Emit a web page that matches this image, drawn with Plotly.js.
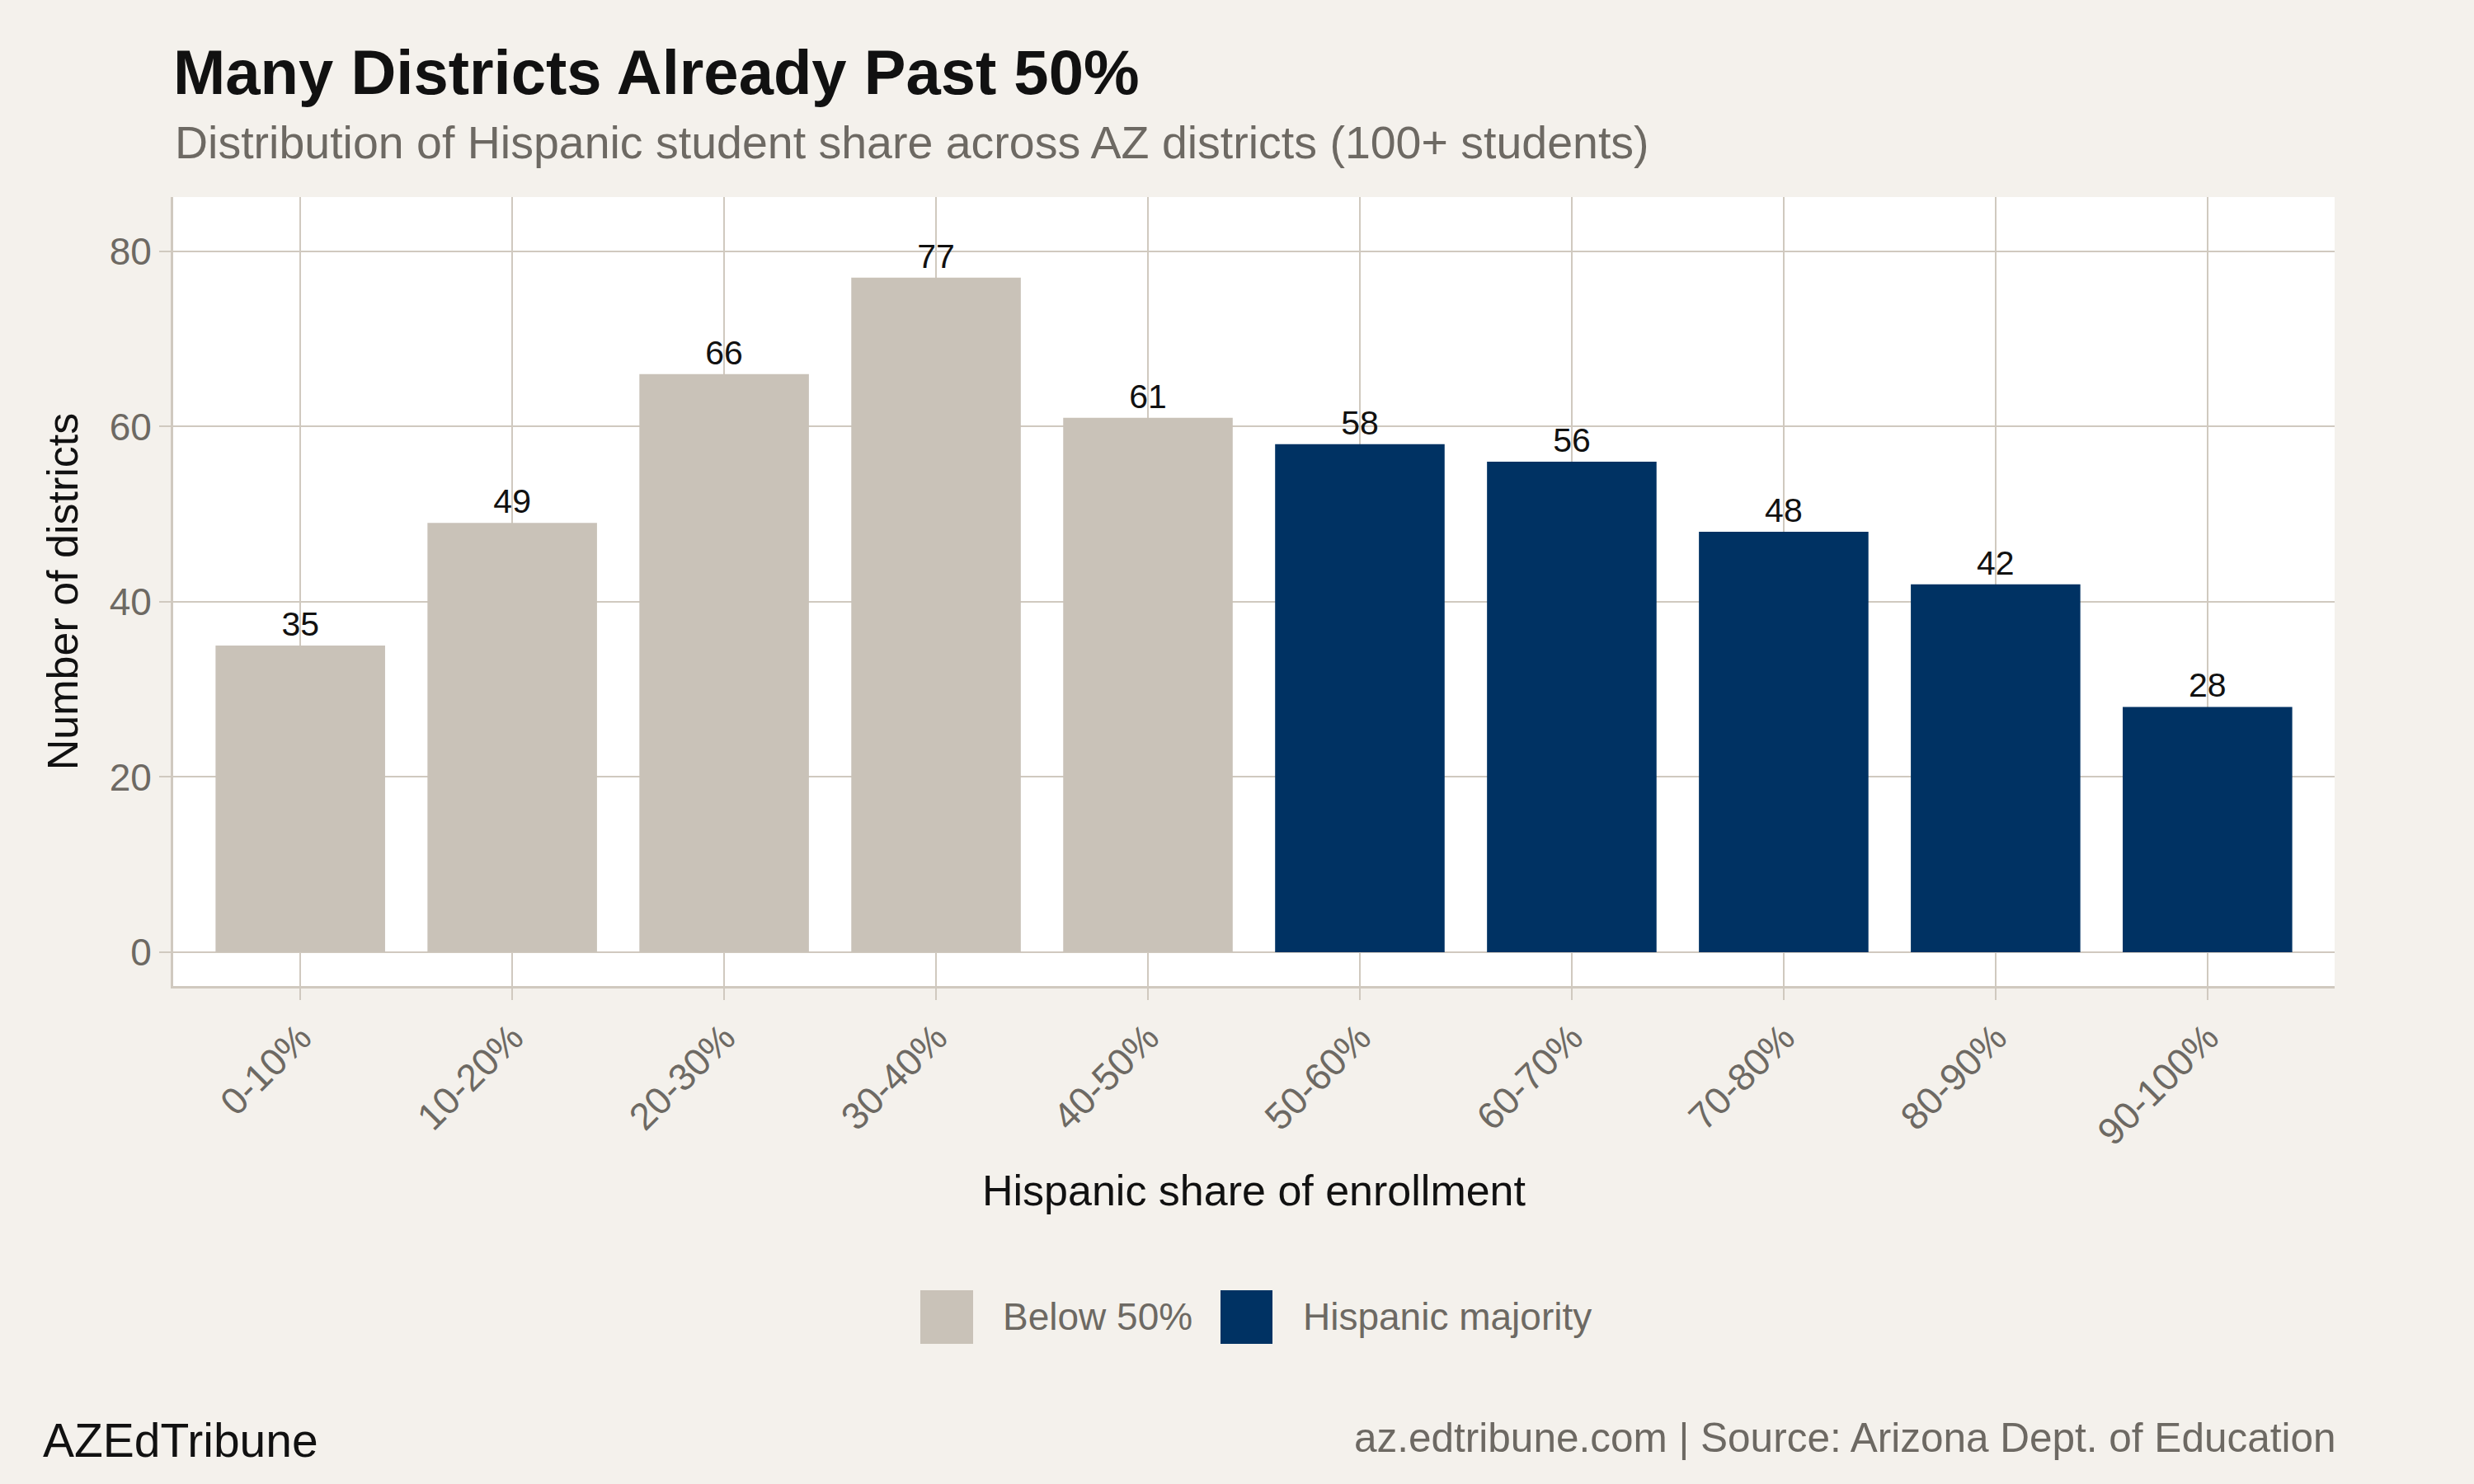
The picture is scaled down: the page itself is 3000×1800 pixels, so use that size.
<!DOCTYPE html>
<html>
<head>
<meta charset="utf-8">
<script src="https://cdn.plot.ly/plotly-3.0.1.min.js"></script>
<style>
  html, body { margin: 0; padding: 0; background: #f4f1ec; }
  #chart { width: 3000px; height: 1800px; }
</style>
</head>
<body>
<div id="chart"></div>
<script>
// ---- Data ----
const categories = ["0-10%", "10-20%", "20-30%", "30-40%", "40-50%",
                    "50-60%", "60-70%", "70-80%", "80-90%", "90-100%"];
const districtCounts = [35, 49, 66, 77, 61, 58, 56, 48, 42, 28];
const groupLabels = ["Below 50%", "Below 50%", "Below 50%", "Below 50%", "Below 50%",
                     "Hispanic majority", "Hispanic majority", "Hispanic majority",
                     "Hispanic majority", "Hispanic majority"];
const groupNames = ["Below 50%", "Hispanic majority"];
const yTicks = [0, 20, 40, 60, 80];

// ---- Styles ----
const groupColors = {"Below 50%": "#c9c2b8", "Hispanic majority": "#003263"};
const FONT = "Liberation Sans, Arial, Helvetica, sans-serif";
const GRID = "#d0c9bf";
const GRAY_TEXT = "#6d6963";
const DARK = "#111111";

const W = 3000, H = 1800;
const M = {l: 210, r: 169, t: 239, b: 604};
const PW = W - M.l - M.r, PH = H - M.t - M.b;
const px = x => (x - M.l) / PW;
const py = y => (M.t + PH - y) / PH;

const traces = groupNames.map(g => {
  const xs = [], ys = [];
  categories.forEach((c, i) => { if (groupLabels[i] === g) { xs.push(c); ys.push(districtCounts[i]); } });
  return {
    type: "bar", name: g, x: xs, y: ys,
    marker: {color: groupColors[g], line: {width: 0}},
    text: ys.map(String), textposition: "outside", cliponaxis: false,
    textfont: {family: FONT, size: 41, color: DARK},
    showlegend: false, hoverinfo: "x+y"
  };
});

// manual legend (large square keys)
const legendKeys = [
  {x0: 1116, x1: 1180, tx: 1214, name: groupNames[0]},
  {x0: 1480, x1: 1543, tx: 1578, name: groupNames[1]}
];
const shapes = legendKeys.map(k => ({
  type: "rect", xref: "paper", yref: "paper",
  x0: px(k.x0), x1: px(k.x1), y0: py(1565), y1: py(1630),
  fillcolor: groupColors[k.name], line: {width: 0}
}));
const annotations = legendKeys.map(k => ({
  xref: "paper", yref: "paper", x: px(k.tx), y: py(1597),
  xanchor: "left", yanchor: "middle", showarrow: false, text: k.name,
  font: {family: FONT, size: 46, color: GRAY_TEXT}
}));
annotations.push({
  xref: "paper", yref: "paper", x: 0, y: py(173), xanchor: "left", yanchor: "middle",
  showarrow: false,
  text: "Distribution of Hispanic student share across AZ districts (100+ students)",
  font: {family: FONT, size: 55.5, color: GRAY_TEXT}
});
annotations.push({
  xref: "paper", yref: "paper", x: px(50), y: py(1747), xanchor: "left", yanchor: "middle",
  showarrow: false, text: "AZEdTribune",
  font: {family: FONT, size: 57, color: DARK}
});
annotations.push({
  xref: "paper", yref: "paper", x: px(2835), y: py(1743), xanchor: "right", yanchor: "middle",
  showarrow: false, text: "az.edtribune.com | Source: Arizona Dept. of Education",
  font: {family: FONT, size: 49.5, color: GRAY_TEXT}
});

const layout = {
  width: W, height: H,
  paper_bgcolor: "#f4f1ec", plot_bgcolor: "#ffffff",
  margin: M,
  barmode: "overlay", bargap: 0.2,
  showlegend: false,
  font: {family: FONT, color: DARK},
  title: {
    text: "<b>Many Districts Already Past 50%</b>",
    xref: "container", yref: "container",
    x: M.l / W, xanchor: "left", y: 1 - 87 / H, yanchor: "middle",
    font: {family: FONT, size: 76, color: DARK}
  },
  xaxis: {
    type: "category", categoryorder: "array", categoryarray: categories,
    range: [-0.6, categories.length - 0.4],
    showgrid: true, gridcolor: GRID, gridwidth: 2,
    showline: true, linecolor: GRID, linewidth: 3,
    ticks: "outside", ticklen: 14, tickwidth: 2, tickcolor: GRID,
    tickangle: -45, tickfont: {family: FONT, size: 46, color: GRAY_TEXT},
    zeroline: false, automargin: false,
    title: {text: "Hispanic share of enrollment", standoff: 28,
            font: {family: FONT, size: 52, color: DARK}}
  },
  yaxis: {
    range: [-3.86, 86.2], tickvals: yTicks, ticktext: yTicks.map(String),
    showgrid: true, gridcolor: GRID, gridwidth: 2,
    showline: true, linecolor: GRID, linewidth: 3,
    ticks: "outside", ticklen: 14, tickwidth: 2, tickcolor: GRID,
    tickfont: {family: FONT, size: 46, color: GRAY_TEXT},
    zeroline: false, automargin: false,
    title: {text: "Number of districts", standoff: 22,
            font: {family: FONT, size: 52, color: DARK}}
  },
  shapes: shapes,
  annotations: annotations
};

Plotly.newPlot("chart", traces, layout, {displayModeBar: false, staticPlot: true});
</script>
</body>
</html>
